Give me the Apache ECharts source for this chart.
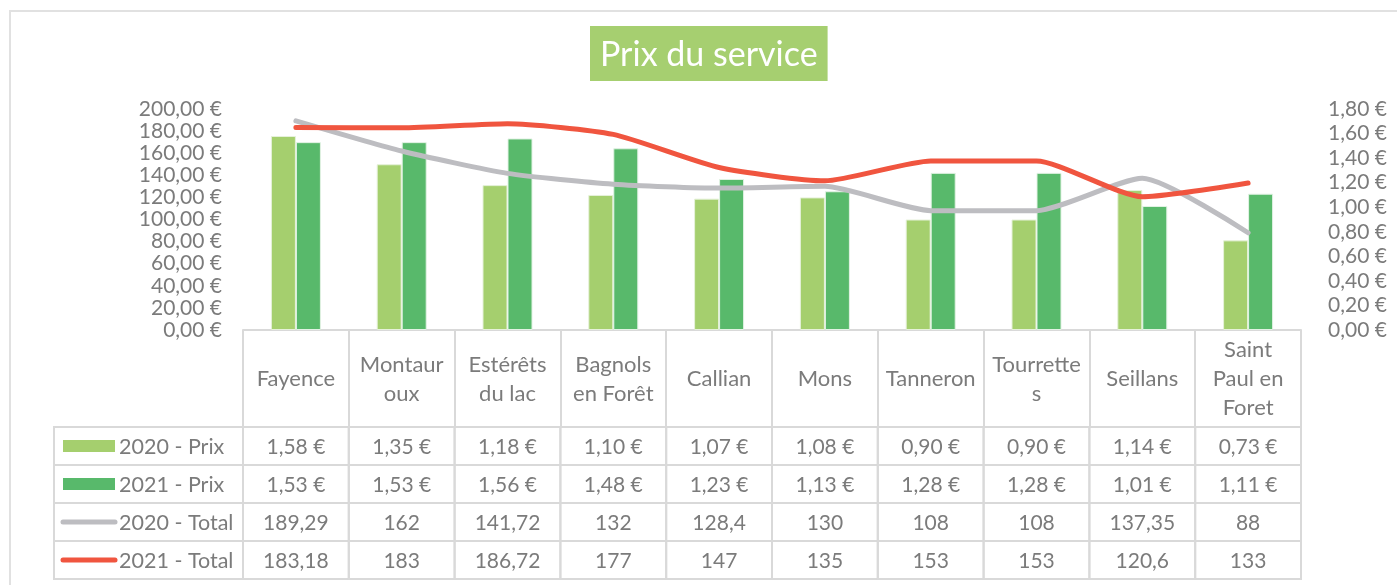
<!DOCTYPE html>
<html>
<head>
<meta charset="utf-8">
<title>Prix du service</title>
<script src="https://cdn.jsdelivr.net/npm/echarts@6/dist/echarts.min.js"></script>
<style>
  html, body { margin: 0; padding: 0; background: #fff; }
  #chart { width: 1397px; height: 585px; }
</style>
</head>
<body>
<div id="chart"></div>
<script>
  // donnees
  var categories = ['Fayence', 'Montauroux', 'Estérêts du lac', 'Bagnols en Forêt', 'Callian', 'Mons', 'Tanneron', 'Tourrettes', 'Seillans', 'Saint Paul en Foret']
  var headerLabels = ['Fayence', 'Montaur\noux', 'Estérêts\ndu lac', 'Bagnols\nen Forêt', 'Callian', 'Mons', 'Tanneron', 'Tourrette\ns', 'Seillans', 'Saint\nPaul en\nForet']
  var seriesNames = ['2020 - Prix', '2021 - Prix', '2020 - Total', '2021 - Total']
  var prix2020 = [1.58, 1.35, 1.18, 1.10, 1.07, 1.08, 0.90, 0.90, 1.14, 0.73]
  var prix2021 = [1.53, 1.53, 1.56, 1.48, 1.23, 1.13, 1.28, 1.28, 1.01, 1.11]
  var total2020 = [189.29, 162, 141.72, 132, 128.4, 130, 108, 108, 137.35, 88]
  var total2021 = [183.18, 183, 186.72, 177, 147, 135, 153, 153, 120.6, 133]
  var leftTicks = [0, 200, 20]
  var rightTicks = [0, 1.8, 0.2]

  var colors = ['#a5cf6e', '#58b96b', '#bdbdc1', '#f0553f']
  var textColor = '#7b7b7b'
  var gridColor = '#d9d9d9'
  var font = 'Lato'

  function euro(v){
    return v.toFixed(2).replace('.', ',') + ' €'
  }
  function plain(v){
    return String(v).replace('.', ',')
  }

  var tableRows = [prix2020, prix2021, total2020, total2021]
  var tableFormat = [euro, euro, plain, plain]

  // cellules du tableau : [colonne, ligne, legende?]
  var tableData = []
  for (var r = 0; r < tableRows.length; r++) {
    tableData.push([0, r, 1])
    for (var c = 0; c < categories.length; c++) {
      tableData.push([c, r, 0])
    }
  }

  function renderCell(params, api){
    var c = api.value(0), r = api.value(1), isLegend = api.value(2)
    var pt = api.coord([c, r])
    var size = api.size([1, 1])
    var w = size[0], h = size[1]
    var x = pt[0] - w / 2, y = pt[1] - h / 2
    var border = { stroke: gridColor, lineWidth: 2, fill: null }
    if (!isLegend) {
      return {
        type: 'group',
        children: [
          { type: 'rect', shape: { x: x, y: y, width: w, height: h }, style: border },
          { type: 'text', x: pt[0], y: pt[1] + 1, style: {
              text: tableFormat[r](tableRows[r][c]), fill: textColor, font: '21px ' + font,
              align: 'center', verticalAlign: 'middle' } }
        ]
      }
    }
    var lw = 189
    var lx = x - lw
    var key
    if (r < 2) {
      key = { type: 'rect', shape: { x: lx + 9, y: pt[1] - 6, width: 52, height: 12 }, style: { fill: colors[r] } }
    } else {
      key = { type: 'line', shape: { x1: lx + 9, y1: pt[1], x2: lx + 61, y2: pt[1] },
              style: { stroke: colors[r], lineWidth: 5, lineCap: 'round' } }
    }
    return {
      type: 'group',
      children: [
        { type: 'rect', shape: { x: lx, y: y, width: lw, height: h }, style: border },
        key,
        { type: 'text', x: lx + 65, y: pt[1] + 1, style: {
            text: seriesNames[r], fill: textColor, font: '21.5px ' + font,
            align: 'left', verticalAlign: 'middle' } }
      ]
    }
  }

  var chartOption = {
    backgroundColor: '#fff',
    textStyle: { fontFamily: font },
    title: {
      text: 'Prix du service',
      left: 590,
      top: 26,
      padding: [10, 10, 6, 10],
      backgroundColor: '#a6cf70',
      textStyle: { color: '#fff', fontSize: 34, fontWeight: 'normal', fontFamily: font, lineHeight: 39 }
    },
    graphic: [
      { type: 'rect', shape: { x: 10, y: 11, width: 1420, height: 620 }, style: { stroke: '#e1e1e1', lineWidth: 2, fill: null }, silent: true }
    ],
    grid: [
      { left: 243, right: 96, top: 109, bottom: 255 },
      { left: 243, right: 96, top: 427, height: 152 }
    ],
    xAxis: [
      {
        type: 'category',
        data: headerLabels,
        axisLine: { lineStyle: { color: gridColor, width: 2 } },
        axisTick: { show: true, interval: 0, length: 97, lineStyle: { color: gridColor, width: 2 } },
        axisLabel: { interval: 0, margin: 49, verticalAlign: 'middle', color: textColor, fontSize: 22, lineHeight: 29, fontFamily: font }
      },
      { type: 'category', gridIndex: 1, data: categories, show: false }
    ],
    yAxis: [
      {
        type: 'value',
        min: leftTicks[0], max: leftTicks[1], interval: leftTicks[2],
        splitLine: { show: false },
        axisLabel: { formatter: euro, color: textColor, fontSize: 21, margin: 21, fontFamily: font }
      },
      {
        type: 'value',
        min: rightTicks[0], max: rightTicks[1], interval: rightTicks[2],
        position: 'right',
        splitLine: { show: false },
        axisLabel: { formatter: euro, color: textColor, fontSize: 21, margin: 27, fontFamily: font }
      },
      { type: 'category', gridIndex: 1, data: seriesNames, inverse: true, show: false }
    ],
    series: [
      {
        name: seriesNames[0], type: 'bar', yAxisIndex: 1, data: prix2020,
        barWidth: 25, barGap: '0%',
        itemStyle: { color: colors[0], borderColor: '#e6f1da', borderWidth: 1 }
      },
      {
        name: seriesNames[1], type: 'bar', yAxisIndex: 1, data: prix2021,
        barWidth: 25, barGap: '0%',
        itemStyle: { color: colors[1], borderColor: '#e2f2e4', borderWidth: 1 }
      },
      {
        name: seriesNames[2], type: 'line', yAxisIndex: 0, data: total2020,
        smooth: 0.2, symbol: 'none',
        lineStyle: { color: colors[2], width: 5, cap: 'round' }
      },
      {
        name: seriesNames[3], type: 'line', yAxisIndex: 0, data: total2021,
        smooth: 0.2, symbol: 'none',
        lineStyle: { color: colors[3], width: 5, cap: 'round' }
      },
      {
        type: 'custom', xAxisIndex: 1, yAxisIndex: 2,
        data: tableData,
        renderItem: renderCell,
        clip: false,
        silent: true
      }
    ]
  }

  var myChart = echarts.init(document.getElementById('chart'))
  myChart.setOption(chartOption)
</script>
</body>
</html>
